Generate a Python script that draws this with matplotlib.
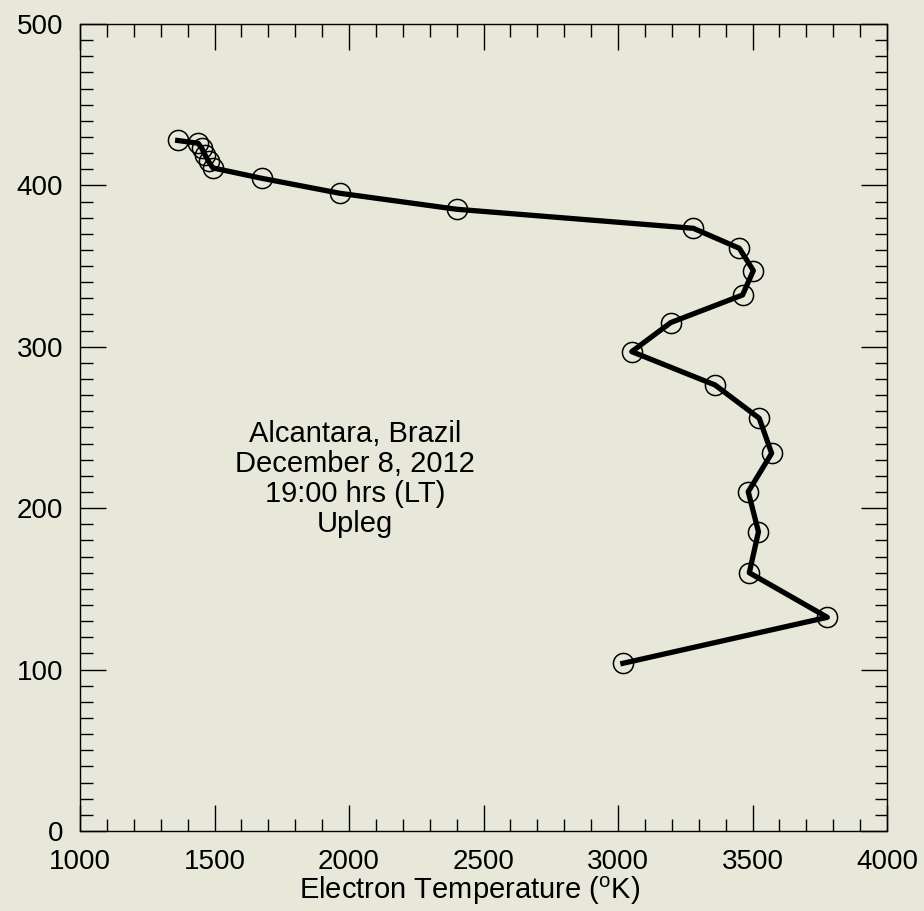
"""
Electron temperature profile, Alcantara upleg.
"""

import matplotlib
matplotlib.use("Agg")
import matplotlib.pyplot as plt
from matplotlib.ticker import MultipleLocator

plt.rcParams["font.family"] = ["Liberation Sans", "DejaVu Sans"]
plt.rcParams["mathtext.fontset"] = "custom"
plt.rcParams["mathtext.rm"] = "Liberation Sans"

# Electron temperature (K) vs altitude (km)
temperature = [1363, 1439, 1453, 1465, 1478, 1494, 1675, 1966, 2400, 3280,
               3451, 3503, 3463, 3196, 3051, 3361, 3525, 3571, 3484, 3522,
               3488, 3778, 3018]
altitude = [427.8, 426.1, 422.9, 418.8, 414.8, 410.8, 404.4, 395.1, 385.2, 373.4,
            361.0, 347.2, 332.1, 315.0, 297.0, 276.3, 255.7, 234.0, 210.2, 185.4,
            160.0, 132.4, 103.9]

bg = "#e8e8da"
fig = plt.figure(figsize=(9.24, 9.11), dpi=100, facecolor=bg)
ax = fig.add_axes([0.0866, 0.0878, 0.8734, 0.8859], facecolor=bg)

ax.plot(temperature, altitude, color="black", linewidth=3.8, zorder=2)
ax.plot(temperature, altitude, linestyle="none", marker="o", markersize=14.5,
        markerfacecolor="none", markeredgecolor="black", markeredgewidth=1.1, zorder=3)

ax.set_xlim(1000, 4000)
ax.set_ylim(0, 500)
ax.xaxis.set_major_locator(MultipleLocator(500))
ax.xaxis.set_minor_locator(MultipleLocator(100))
ax.yaxis.set_major_locator(MultipleLocator(100))
ax.yaxis.set_minor_locator(MultipleLocator(10))

ax.tick_params(which="both", direction="in", top=True, right=True, width=1, colors="black")
ax.tick_params(which="major", length=19, labelsize=20)
ax.tick_params(which="minor", length=9)
ax.tick_params(axis="x", which="major", pad=13)
ax.tick_params(axis="y", which="major", pad=12)
for s in ax.spines.values():
    s.set_linewidth(1)

ax.set_xlabel(r"Electron Temperature ($^{\rm o}$K)", fontsize=21, labelpad=0)
ax.xaxis.label.set_x(0.483)

ax.text(2022, 218, "Alcantara, Brazil\nDecember 8, 2012\n19:00 hrs (LT)\nUpleg",
        ha="center", va="center", fontsize=21, linespacing=1.1)

plt.savefig("out.png", dpi=100, facecolor=bg)
plt.close()
